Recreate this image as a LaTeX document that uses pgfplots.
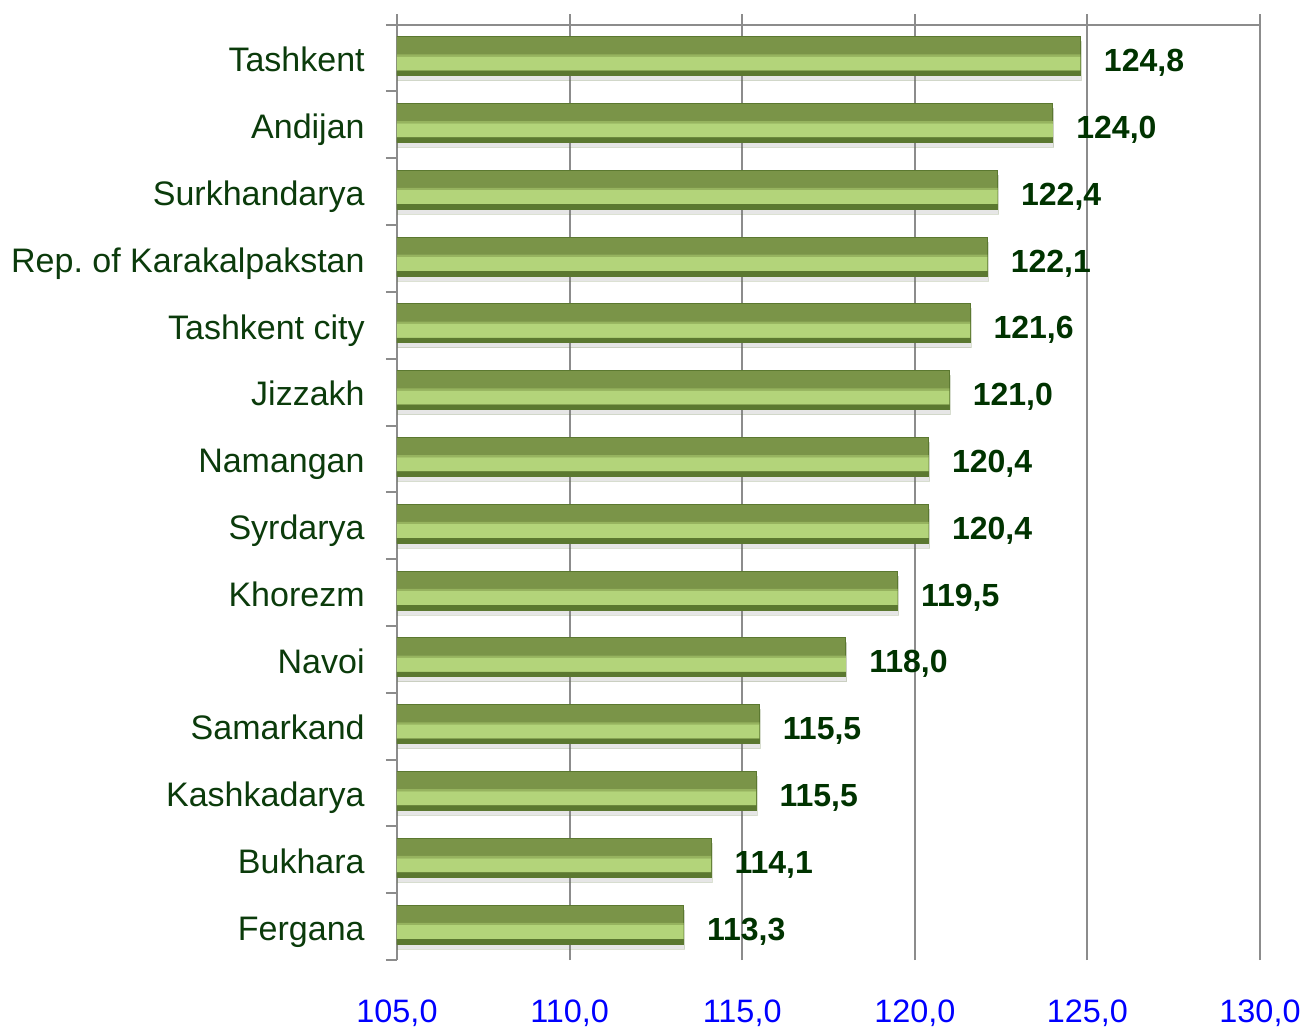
\documentclass[border=0pt]{standalone}
\usepackage{pgfplots}
\usepackage{pgfplotstable}
\pgfplotsset{compat=1.18}
\usepackage{fontspec}
\setmainfont{Liberation Sans}
\usetikzlibrary{shadows}
\definecolor{bdark}{HTML}{7A9448}
\definecolor{bmid}{HTML}{96B35F}
\definecolor{blight}{HTML}{B3D47A}
\definecolor{bedge}{HTML}{5B7830}
\definecolor{gridgray}{HTML}{8C8C8C}
\definecolor{catgreen}{HTML}{0B3B0B}
\definecolor{valgreen}{HTML}{003300}

\pgfplotstableread{
y x lab
13 124.8 124,8
12 124.0 124,0
11 122.4 122,4
10 122.1 122,1
9 121.6 121,6
8 121.0 121,0
7 120.4 120,4
6 120.4 120,4
5 119.5 119,5
4 118.0 118,0
3 115.5 115,5
2 115.4 115,5
1 114.1 114,1
0 113.3 113,3
}\datatable

\begin{document}
\begin{tikzpicture}
\begin{axis}[
  at={(0pt,0pt)}, anchor=south west,
  scale only axis, width=431.5pt, height=473pt,
  xmin=105, xmax=130, ymin=-0.5, ymax=13.66,
  axis line style={draw=none},
  tick pos=left,
  xtick={105,110,...,130},
  xticklabels={{105,0},{110,0},{115,0},{120,0},{125,0},{130,0}},
  xmajorgrids,
  grid style={gridgray, line width=1pt},
  major x tick style={draw=none},
  ytick={0,...,13},
  yticklabels={Fergana,Bukhara,Kashkadarya,Samarkand,Navoi,Khorezm,Syrdarya,Namangan,Jizzakh,Tashkent city,Rep.\ of Karakalpakstan,Surkhandarya,Andijan,Tashkent},
  major y tick style={draw=none},
  major tick length=0pt,
  minor ytick={-0.5,0.5,...,13.5},
  minor tick length=5.5pt,
  tick align=outside,
  minor y tick style={gridgray, line width=1pt},
  xticklabel style={font=\fontsize{16.2}{19}\selectfont, text=blue, anchor=north, inner sep=0pt, yshift=-19.5pt},
  yticklabel style={font=\fontsize{17}{20}\selectfont, text=catgreen, anchor=east, inner sep=0pt, xshift=-16pt, text height=13.7pt, text depth=0pt},
]
\draw[gridgray, line width=1pt] (axis cs:105,13.5) -- (axis cs:130,13.5);
% full bar (dark top part) with shadow and value labels
\addplot[xbar, bar width=19.5pt, bar shift=1pt, fill=bdark, draw=bedge, line width=0.5pt,
  drop shadow={shadow xshift=0.5pt, shadow yshift=-2.5pt, opacity=0.2},
  nodes near coords, point meta=explicit symbolic,
  nodes near coords style={anchor=west, font=\fontsize{16}{19}\selectfont\bfseries, text=valgreen, inner sep=0pt, xshift=11.5pt, yshift=-2.4pt}]
  table[x=x, y=y, meta=lab] {\datatable};
% transition band
\addplot[xbar, bar width=1.2pt, bar shift=1.3pt, fill=bmid, draw=none]
  table[x=x, y=y] {\datatable};
% light lower band
\addplot[xbar, bar width=7pt, bar shift=-2.75pt, fill=blight, draw=none]
  table[x=x, y=y] {\datatable};
% dark bottom edge
\addplot[xbar, bar width=2.5pt, bar shift=-7.5pt, fill=bedge, draw=none]
  table[x=x, y=y] {\datatable};
\end{axis}
\path[use as bounding box] (-198.5pt,-34pt) rectangle (454.5pt,480pt);
\end{tikzpicture}
\end{document}
